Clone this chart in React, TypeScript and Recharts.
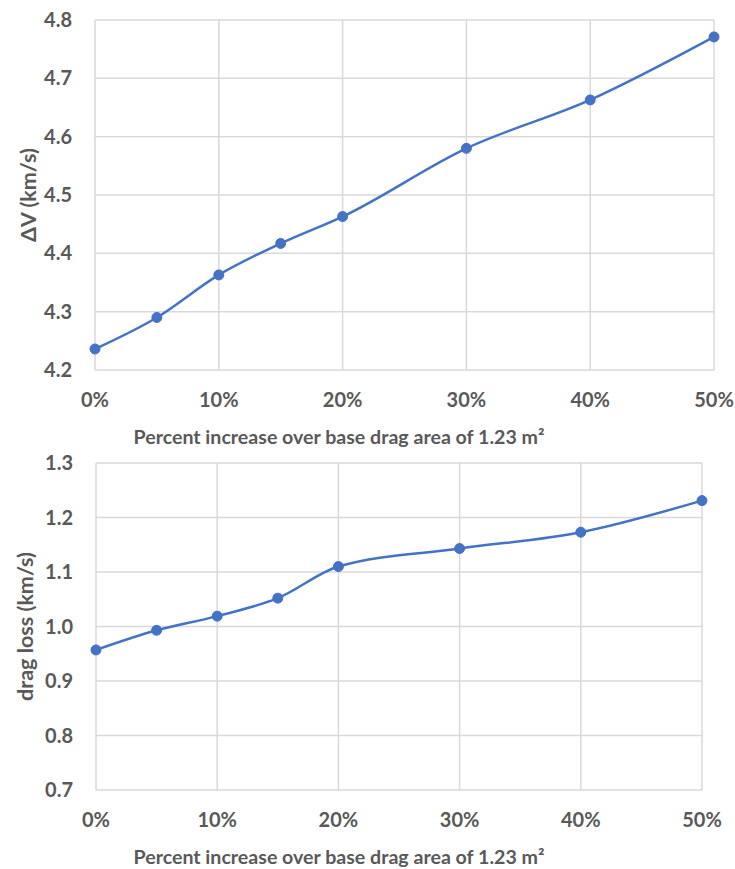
import React from 'react';
import { LineChart, Line, XAxis, YAxis, CartesianGrid } from 'recharts';

// Percent increase over the base drag area
const pctIncrease = [0, 5, 10, 15, 20, 30, 40, 50];
// Total delta-V (km/s)
const deltaV = [4.236, 4.29, 4.363, 4.417, 4.463, 4.58, 4.663, 4.771];
// Drag loss (km/s)
const dragLoss = [0.957, 0.993, 1.019, 1.052, 1.11, 1.143, 1.173, 1.231];

const xTicks = [0, 10, 20, 30, 40, 50];
const dvTicks = [4.2, 4.3, 4.4, 4.5, 4.6, 4.7, 4.8];
const lossTicks = [0.7, 0.8, 0.9, 1.0, 1.1, 1.2, 1.3];

const xTitle = 'Percent increase over base drag area of 1.23 m²';

const topData = pctIncrease.map((p, i) => ({ p, v: deltaV[i] }));
const bottomData = pctIncrease.map((p, i) => ({ p, v: dragLoss[i] }));

const FONT = 'Lato, "DejaVu Sans", sans-serif';
const TEXT = '#595959';
const GRID = '#d9d9d9';
const BLUE = '#4472c4';

const tickStyle = { fontFamily: FONT, fontSize: 20, fontWeight: 700, fill: TEXT };

function YTitle({ viewBox, value, x }: any) {
  const cy = viewBox.y + viewBox.height / 2;
  return (
    <text
      x={x}
      y={cy}
      transform={`rotate(-90 ${x} ${cy})`}
      textAnchor="middle"
      dominantBaseline="central"
      style={{ fontFamily: FONT, fontSize: 21.5, fontWeight: 700, fill: TEXT }}
    >
      {value}
    </text>
  );
}

function XTitle({ viewBox, dy }: any) {
  const cx = 339;
  const y = viewBox.y + dy;
  return (
    <text
      x={cx}
      y={y}
      textAnchor="middle"
      dominantBaseline="central"
      style={{ fontFamily: FONT, fontSize: 19.6, fontWeight: 700, fill: TEXT }}
    >
      {xTitle}
    </text>
  );
}

function Panel({ data, ticks, title, height, margin, yWidth, xHeight, titleX }: any) {
  return (
    <LineChart width={735} height={height} data={data} margin={margin}>
      <CartesianGrid stroke={GRID} strokeWidth={1.5} />
      <XAxis
        dataKey="p"
        type="number"
        domain={[0, 50]}
        ticks={xTicks}
        tickFormatter={(t: number) => `${t}%`}
        axisLine={false}
        tickLine={false}
        tickSize={0}
        tickMargin={23}
        height={xHeight}
        tick={tickStyle}
        interval={0}
        label={{ content: (p: any) => <XTitle viewBox={p.viewBox} dy={66} /> }}
      />
      <YAxis
        type="number"
        domain={[ticks[0], ticks[ticks.length - 1]]}
        ticks={ticks}
        tickFormatter={(t: number) => t.toFixed(1)}
        axisLine={false}
        tickLine={false}
        tickSize={0}
        tickMargin={23}
        width={yWidth}
        tick={tickStyle}
        interval={0}
        label={{ content: (p: any) => <YTitle viewBox={p.viewBox} value={title} x={titleX} /> }}
      />
      <Line
        type="monotone"
        dataKey="v"
        stroke={BLUE}
        strokeWidth={2.5}
        dot={{ r: 5, fill: BLUE, stroke: BLUE, strokeWidth: 1 }}
        isAnimationActive={false}
      />
    </LineChart>
  );
}

export default function App() {
  return (
    <div style={{ position: 'absolute', left: 0, top: 0, width: 735, height: 869, background: '#fff' }}>
      <div style={{ position: 'absolute', left: 0, top: 0 }}>
        <Panel
          data={topData}
          ticks={dvTicks}
          title="ΔV (km/s)"
          height={450}
          margin={{ top: 20, right: 21, left: 0, bottom: 0 }}
          yWidth={95}
          xHeight={80}
          titleX={28}
        />
      </div>
      <div style={{ position: 'absolute', left: 0, top: 440 }}>
        <Panel
          data={bottomData}
          ticks={lossTicks}
          title="drag loss (km/s)"
          height={429}
          margin={{ top: 23, right: 33, left: 0, bottom: 0 }}
          yWidth={96}
          xHeight={79}
          titleX={25}
        />
      </div>
    </div>
  );
}
